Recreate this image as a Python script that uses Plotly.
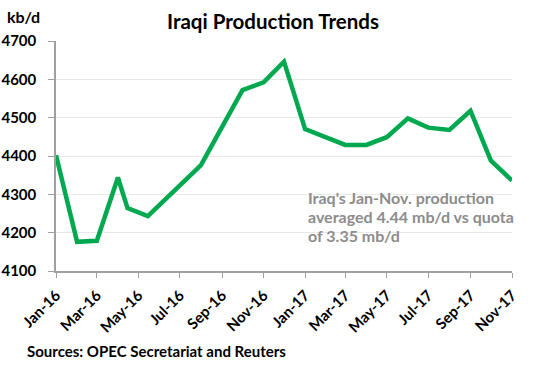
import plotly.graph_objects as go

# Data
dates = ["2016-01-01", "2016-02-01", "2016-03-01", "2016-04-01", "2016-04-15",
         "2016-05-15", "2016-08-01", "2016-09-01", "2016-10-01", "2016-11-01",
         "2016-12-01", "2017-01-01", "2017-02-01", "2017-03-01", "2017-04-01",
         "2017-05-01", "2017-06-01", "2017-07-01", "2017-08-01", "2017-09-01",
         "2017-10-01", "2017-11-01"]
production = [4402, 4176, 4179, 4344, 4264,
              4243, 4376, 4477, 4572, 4592,
              4646, 4470, 4449, 4429, 4429,
              4449, 4498, 4474, 4468, 4518,
              4388, 4336]
y_ticks = [4100, 4200, 4300, 4400, 4500, 4600, 4700]
note_lines = ["Iraq's Jan-Nov. production", "averaged 4.44 mb/d vs quota", "of 3.35 mb/d"]

FONT = "Lato"
GREEN = "#00A84F"

fig = go.Figure()
fig.add_trace(go.Scatter(x=dates, y=production, mode="lines",
                         line=dict(color=GREEN, width=4.5), hoverinfo="skip"))

# plot area in pixels: x 56..512, y 41..271
L, R, T, B = 56, 512, 41, 271
W, H = 540, 367
def px(x):
    return (x - L) / (R - L)
def py(y):
    return (B - y) / (B - T)

fig.update_layout(
    width=W, height=H,
    margin=dict(l=L, r=W - R, t=T, b=H - B, pad=0, autoexpand=False),
    paper_bgcolor="white", plot_bgcolor="white",
    showlegend=False,
    font=dict(family=FONT, color="black"),
    xaxis=dict(type="date", range=["2016-01-01", "2017-11-01"],
               tick0="2016-01-01", dtick="M2", tickformat="%b-%y",
               tickangle=-45, ticks="outside", ticklen=5, tickcolor="#A0A0A0",
               ticklabelstandoff=3, automargin=False,
               showline=True, linecolor="#A0A0A0", linewidth=1.5,
               showgrid=False, zeroline=False,
               tickfont=dict(family=FONT, size=15, color="black", weight="bold")),
    yaxis=dict(range=[4100, 4700], tickvals=y_ticks,
               ticks="outside", ticklen=6, tickcolor="#A0A0A0",
               ticklabelstandoff=9, automargin=False,
               showline=True, linecolor="#A0A0A0", linewidth=1.5,
               showgrid=True, gridcolor="#E8E8E8", gridwidth=1,
               zeroline=False,
               tickfont=dict(family=FONT, size=15, color="black", weight="bold")),
)

annos = [
    dict(text="<b>Iraqi Production Trends</b>", x=px(272.5), y=py(21),
         xanchor="center", yanchor="middle", font=dict(size=20.5, color="black")),
    dict(text="<b>kb/d</b>", x=px(5), y=py(17), xanchor="left", yanchor="middle",
         font=dict(size=16, color="black")),
    dict(text="<b>Sources: OPEC Secretariat and Reuters</b>", x=px(25), y=py(351),
         xanchor="left", yanchor="middle", font=dict(size=15, color="black")),
]
for i, line in enumerate(note_lines):
    annos.append(dict(text="<b>" + line + "</b>", x=px(306), y=py(197 + 19 * i),
                      xanchor="left", yanchor="middle",
                      font=dict(size=16, color="#8C8C8C")))
for a in annos:
    fig.add_annotation(xref="paper", yref="paper", showarrow=False, **a)

fig.write_html("out.html", config={"displayModeBar": False},
               post_script="document.body.style.margin='0';")
